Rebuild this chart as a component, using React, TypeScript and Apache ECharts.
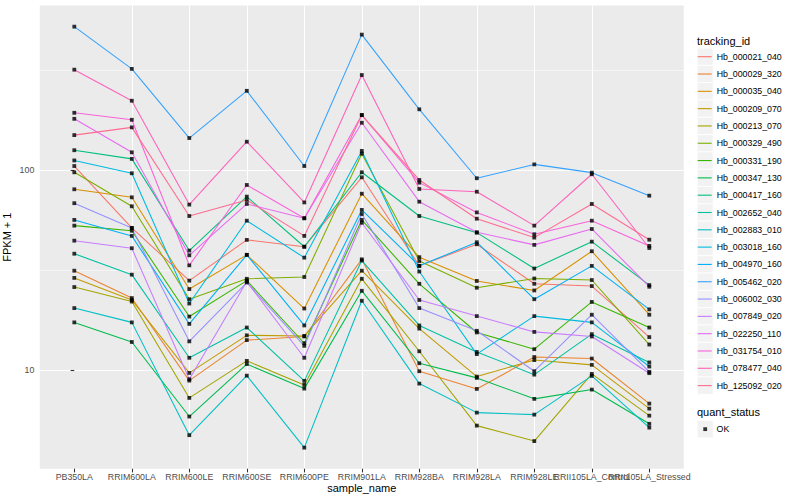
import React, { useEffect, useRef } from "react";
import * as echarts from "echarts";

// ---------- data ----------
const categories = [
  "PB350LA", "RRIM600LA", "RRIM600LE", "RRIM600SE", "RRIM600PE", "RRIM901LA",
  "RRIM928BA", "RRIM928LA", "RRIM928LE", "RRII105LA_Control", "RRII105LA_Stressed",
];

const trackingIds = [
  "Hb_000021_040", "Hb_000029_320", "Hb_000035_040", "Hb_000209_070", "Hb_000213_070",
  "Hb_000329_490", "Hb_000331_190", "Hb_000347_130", "Hb_000417_160", "Hb_002652_040",
  "Hb_002883_010", "Hb_003018_160", "Hb_004970_160", "Hb_005462_020", "Hb_006002_030",
  "Hb_007849_020", "Hb_022250_110", "Hb_031754_010", "Hb_078477_040", "Hb_125092_020",
];

const trackingColors = [
  "#F8766D", "#EA8331", "#D89000", "#C09B00", "#A3A500",
  "#7CAE00", "#39B600", "#00BB4E", "#00BF7D", "#00C1A3",
  "#00BFC4", "#00BAE0", "#00B0F6", "#35A2FF", "#9590FF",
  "#C77CFF", "#E76BF3", "#FA62DB", "#FF62BC", "#FF6C91",
];

// FPKM + 1, one value per sample (same order as categories)
const hb_000021_040 = [105, 51.4, 28.0, 44.8, 41.4, 92.2, 33.2, 42.6, 27.0, 26.3, 14.6];
const hb_000029_320 = [31.4, 22.9, 8.84, 14.1, 14.7, 35.8, 9.85, 8.03, 11.6, 11.4, 6.78];
const hb_000035_040 = [80.3, 73.2, 25.4, 37.7, 20.3, 76.3, 36.7, 27.9, 25.0, 39.3, 18.9];
const hb_000209_070 = [28.9, 22.4, 9.66, 14.9, 14.8, 31.4, 16.1, 9.26, 11.2, 10.6, 6.40];
const hb_000213_070 = [26.0, 22.0, 7.24, 11.1, 8.41, 28.6, 12.4, 5.26, 4.40, 9.55, 5.90];
const hb_000329_490 = [97.7, 66.0, 22.6, 28.6, 29.2, 121, 35.1, 25.8, 28.7, 28.2, 13.4];
const hb_000331_190 = [52.8, 49.8, 18.5, 28.0, 13.6, 56.4, 27.0, 15.4, 12.7, 21.9, 16.3];
const hb_000347_130 = [17.3, 13.8, 5.84, 10.7, 8.06, 24.9, 10.8, 9.12, 7.16, 7.97, 5.37];
const hb_000417_160 = [126, 114, 39.6, 73.8, 41.4, 97.7, 59.0, 48.7, 32.2, 43.9, 26.6];
const hb_002652_040 = [38.2, 30.0, 11.5, 16.3, 8.81, 35.3, 16.7, 12.3, 9.47, 15.1, 10.9];
const hb_002883_010 = [20.4, 17.3, 4.71, 9.36, 4.08, 22.2, 8.54, 6.11, 5.97, 9.33, 5.14];
const hb_003018_160 = [112, 96.6, 21.5, 55.9, 36.5, 125, 31.1, 12.0, 18.6, 17.3, 10.4];
const hb_004970_160 = [56.4, 46.9, 17.0, 37.7, 16.7, 63.3, 33.2, 43.6, 22.6, 33.2, 20.1];
const hb_005462_020 = [524, 322, 145, 250, 105, 478, 202, 91.2, 107, 97.3, 74.6];
const hb_006002_030 = [68.4, 51.4, 13.9, 27.4, 13.2, 60.4, 20.4, 15.7, 9.85, 18.9, 9.77];
const hb_007849_020 = [44.4, 40.7, 8.98, 27.7, 11.5, 54.6, 22.4, 18.6, 15.5, 14.7, 9.63];
const hb_022250_110 = [181, 123, 37.5, 67.8, 57.5, 173, 69.6, 48.9, 42.3, 50.8, 26.1];
const hb_031754_010 = [194, 179, 33.4, 84.4, 57.5, 189, 86.7, 61.5, 47.8, 55.9, 41.8];
const hb_078477_040 = [319, 223, 67.3, 139, 69.0, 300, 80.6, 78.1, 52.8, 95.5, 40.8];
const hb_125092_020 = [150, 164, 59.0, 71.0, 46.9, 189, 89.4, 57.2, 46.0, 67.8, 44.9];

const seriesValues = [
  hb_000021_040, hb_000029_320, hb_000035_040, hb_000209_070, hb_000213_070,
  hb_000329_490, hb_000331_190, hb_000347_130, hb_000417_160, hb_002652_040,
  hb_002883_010, hb_003018_160, hb_004970_160, hb_005462_020, hb_006002_030,
  hb_007849_020, hb_022250_110, hb_031754_010, hb_078477_040, hb_125092_020,
];

const quantStatus = ["OK"];
const yTickValues = [10, 100];
const yTickLabels = ["10", "100"];
const yRange = [3.2, 668];

export default function App() {
  const ref = useRef<HTMLDivElement>(null);

  useEffect(() => {
    if (!ref.current) return;
    const chart = echarts.init(ref.current, null, { renderer: "svg" });
    const font = "'Liberation Sans', Arial, Helvetica, sans-serif";

    const gridLeft = 39.8;
    const gridTop = 5.6;
    const gridW = 644;
    const gridH = 463.1;

    const catIdx = categories.map((_, i) => i);
    // ECharts hides one of the two last labels when they overlap; the reference
    // lets them overlap, so the second-to-last label is drawn by a second x axis.
    const overlapIdx = categories.length - 2;
    const mainLabelIdx = catIdx.filter((i) => i !== overlapIdx);
    const extraLabelIdx = [overlapIdx];
    const logTicks = yTickValues.map((v) => Math.log10(v));

    const catFormatter = (v: number) => {
      const i = Math.round(v);
      return Math.abs(v - i) < 1e-6 && categories[i] ? categories[i] : "";
    };

    const lineSeries: any[] = trackingIds.map((name, k) => ({
      name,
      type: "line",
      xAxisIndex: 0,
      yAxisIndex: 0,
      data: seriesValues[k].map((v, i) => [i, v]),
      symbol: "none",
      showSymbol: false,
      lineStyle: { color: trackingColors[k], width: 1.07 },
      itemStyle: { color: trackingColors[k] },
      emphasis: { disabled: true },
      silent: true,
      z: 2,
    }));

    const pointData: number[][] = [];
    seriesValues.forEach((vals) => vals.forEach((v, i) => pointData.push([i, v])));

    const pointSeries = {
      name: quantStatus[0],
      type: "scatter",
      xAxisIndex: 0,
      yAxisIndex: 0,
      data: pointData,
      symbol: "rect",
      symbolSize: 3.8,
      itemStyle: { color: "#000000" },
      emphasis: { disabled: true },
      silent: true,
      z: 3,
    };

    const keyX = 697.2;
    const keyTop = 48.05;
    const keyH = 17.31;
    const keyW = 16;

    const keyRects: any[] = trackingIds.map((_, i) => ({
      type: "rect",
      shape: { x: keyX, y: keyTop + i * keyH, width: keyW, height: keyH },
      style: { fill: "#F2F2F2", stroke: "#FFFFFF", lineWidth: 0.8 },
      z: 0,
      silent: true,
    }));

    const labelStyle = {
      margin: 4,
      fontSize: 8.8,
      color: "#4D4D4D",
      fontFamily: font,
      showMinLabel: true,
      showMaxLabel: true,
      hideOverlap: false,
      formatter: catFormatter,
    };

    const option: any = {
      animation: false,
      backgroundColor: "#FFFFFF",
      textStyle: { fontFamily: font },
      grid: {
        left: gridLeft,
        top: gridTop,
        width: gridW,
        height: gridH,
        show: true,
        backgroundColor: "#EBEBEB",
        borderWidth: 0,
        containLabel: false,
        outerBoundsMode: "none",
      },
      xAxis: [
        {
          type: "value",
          position: "bottom",
          min: -0.6,
          max: 10.6,
          minInterval: 1,
          maxInterval: 1,
          name: "sample_name",
          nameLocation: "middle",
          nameGap: 14,
          nameMoveOverlap: false,
          nameTextStyle: { fontSize: 11, color: "#000000", fontFamily: font },
          axisLine: { show: false },
          axisTick: {
            show: true,
            length: 3.7,
            customValues: catIdx,
            lineStyle: { color: "#333333", width: 1.07 },
          },
          axisLabel: { show: true, customValues: mainLabelIdx, ...labelStyle },
          splitLine: {
            show: true,
            showMinLine: false,
            showMaxLine: false,
            lineStyle: { color: "#FFFFFF", width: 1.07 },
          },
        },
        {
          type: "value",
          position: "bottom",
          offset: 0,
          min: -0.6,
          max: 10.6,
          minInterval: 1,
          maxInterval: 1,
          axisLine: { show: false },
          axisTick: { show: false },
          splitLine: { show: false },
          axisLabel: { show: true, customValues: extraLabelIdx, ...labelStyle },
        },
      ],
      yAxis: [
        {
          type: "log",
          logBase: 10,
          position: "left",
          min: yRange[0],
          max: yRange[1],
          name: "FPKM + 1",
          nameLocation: "middle",
          nameGap: 27,
          nameMoveOverlap: false,
          nameTextStyle: { fontSize: 11, color: "#000000", fontFamily: font },
          axisLine: { show: false },
          axisTick: { show: false },
          axisLabel: {
            show: true,
            margin: 5.5,
            fontSize: 8.8,
            color: "#4D4D4D",
            fontFamily: font,
            showMinLabel: true,
            showMaxLabel: true,
            formatter: (v: number) => {
              const idx = yTickValues.findIndex((t) => Math.abs(t - v) < 1e-6 * t);
              return idx >= 0 ? yTickLabels[idx] : "";
            },
          },
          splitLine: {
            show: true,
            showMinLine: false,
            showMaxLine: false,
            lineStyle: { color: "#FFFFFF", width: 1.07 },
          },
        },
        {
          type: "value",
          position: "left",
          offset: 0,
          min: Math.log10(yRange[0]),
          max: Math.log10(yRange[1]),
          minInterval: 1,
          maxInterval: 1,
          axisLine: { show: false },
          axisLabel: { show: false },
          axisTick: {
            show: true,
            length: 3.7,
            customValues: logTicks,
            lineStyle: { color: "#333333", width: 1.07 },
          },
          splitLine: { show: false },
          minorTick: { show: false, splitNumber: 2 },
          minorSplitLine: { show: true, lineStyle: { color: "#FFFFFF", width: 0.53 } },
        },
      ],
      legend: [
        {
          orient: "vertical",
          left: 697.7,
          top: keyTop,
          padding: 0,
          itemGap: 0,
          itemWidth: 14,
          itemHeight: 1.1,
          icon: "rect",
          selectedMode: false,
          data: trackingIds.map((n, k) => ({ name: n, itemStyle: { color: trackingColors[k], borderWidth: 0 } })),
          itemStyle: { borderWidth: 0 },
          textStyle: { fontSize: 8.8, color: "#000000", fontFamily: font, lineHeight: keyH },
        },
        {
          orient: "vertical",
          left: 703.3,
          top: 420.5,
          padding: 0,
          itemGap: 0,
          itemWidth: 3.8,
          itemHeight: 3.8,
          icon: "rect",
          selectedMode: false,
          data: quantStatus.map((n) => ({ name: n, itemStyle: { color: "#000000", borderWidth: 0 } })),
          itemStyle: { borderWidth: 0 },
          textStyle: { fontSize: 8.8, color: "#000000", fontFamily: font, lineHeight: keyH, padding: [0, 0, 0, 4.5] },
        },
      ],
      graphic: [
        {
          type: "text",
          x: 697,
          y: 40.7,
          silent: true,
          style: { text: "tracking_id", fontSize: 11, fontFamily: font, fill: "#000000", verticalAlign: "middle" },
        },
        ...keyRects,
        {
          type: "text",
          x: 697,
          y: 412,
          silent: true,
          style: { text: "quant_status", fontSize: 11, fontFamily: font, fill: "#000000", verticalAlign: "middle" },
        },
        {
          type: "rect",
          shape: { x: keyX, y: 420.5, width: keyW, height: keyH },
          style: { fill: "#F2F2F2", stroke: "#FFFFFF", lineWidth: 0.8 },
          z: 0,
          silent: true,
        },
      ],
      series: [...lineSeries, pointSeries],
    };

    chart.setOption(option);
    return () => {
      chart.dispose();
    };
  }, []);

  return (
    <div
      ref={ref}
      style={{ position: "absolute", left: 0, top: 0, width: 800, height: 500 }}
    />
  );
}
